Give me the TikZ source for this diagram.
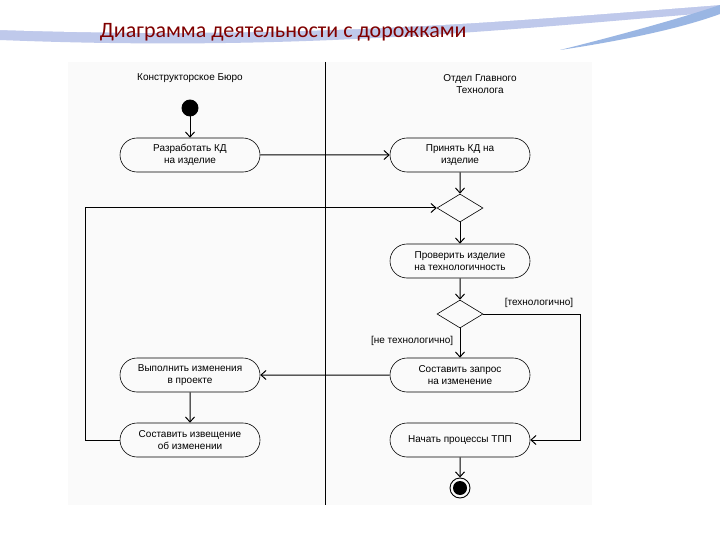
\documentclass[tikz,border=0pt]{standalone}
\usepackage{fontspec}
\setmainfont{Liberation Sans}
\newfontfamily\titlefont{Carlito}
\usetikzlibrary{shapes.geometric,shapes.misc,arrows.meta}
\begin{document}
\begin{tikzpicture}[x=1pt,y=-1pt,line width=0.9pt,
  act/.style={draw,line width=0.6pt,rounded rectangle,minimum width=142pt,minimum height=34pt,align=center,font=\fontsize{10}{11.5}\selectfont,inner sep=1pt},
  dec/.style={draw,line width=0.6pt,diamond,minimum width=46pt,minimum height=28pt,inner sep=0pt,aspect=1.6},
  flow/.style={draw,line width=1pt,-{Straight Barb[length=5pt,width=9pt]}},
  lbl/.style={font=\fontsize{10}{11.5}\selectfont}]
\useasboundingbox (0,0) rectangle (720,540);
\fill[white] (0,0) rectangle (720,540);
% slide decoration
\fill[cyan!40!blue!25] (0,0) -- (720,0) -- (720,12) .. controls (500,30) and (300,52) .. (0,40) -- cycle;
\fill[white] (0,0) -- (720,0) -- (720,5) .. controls (500,22) and (300,40) .. (0,30) -- cycle;
\fill[cyan!50!blue!40] (560,50) .. controls (640,30) and (690,15) .. (720,5) -- (720,14) .. controls (690,25) and (640,38) .. (560,50) -- cycle;
\node[font=\titlefont\fontsize{22}{24}\selectfont,text=red!50!black,anchor=base west] (title) at (96,38) {Диаграмма деятельности с дорожками};
\fill[gray!4] (68,62) rectangle (592,505);
\draw (325,62) -- (325,505);
\node[lbl] (lane1) at (190,78) {Конструкторское Бюро};
\node[lbl,align=center] (lane2) at (480,84) {Отдел Главного\\Технолога};
\node[draw,fill=black,circle,minimum size=16pt,inner sep=0pt] (start) at (190,108) {};
\node[act] (A) at (190,155) {Разработать КД\\на изделие};
\node[act] (B) at (460,155) {Принять КД на\\изделие};
\node[dec] (D1) at (460,208) {};
\node[act] (C) at (460,261) {Проверить изделие\\на технологичность};
\node[dec] (D2) at (460,314) {};
\node[act] (E) at (460,375) {Составить запрос\\на изменение};
\node[act] (F) at (190,375) {Выполнить изменения\\в проекте};
\node[act] (G) at (190,440) {Составить извещение\\об изменении};
\node[act] (H) at (460,440) {Начать процессы ТПП};
\node[draw,circle,minimum size=20pt,inner sep=0pt] (end) at (460,488) {};
\fill[black] (end) circle (7pt);
\draw[flow] (start) -- (A);
\draw[flow] (A) -- (B);
\draw[flow] (B) -- (D1);
\draw[flow] (D1) -- (C);
\draw[flow] (C) -- (D2);
\draw[flow] (D2) -- (E);
\draw[flow] (E) -- (F);
\draw[flow] (F) -- (G);
\draw[flow] (H) -- (end);
\draw[flow] (G.west) -- (85,440) -- (85,208) -- (D1.west);
\draw[flow] (D2.east) -- (580,314) -- (580,440) -- (H.east);
\node[lbl,anchor=south] (t1) at (539,311) {[технологично]};
\node[lbl,anchor=east] (t2) at (457,341) {[не технологично]};
\end{tikzpicture}
\end{document}
